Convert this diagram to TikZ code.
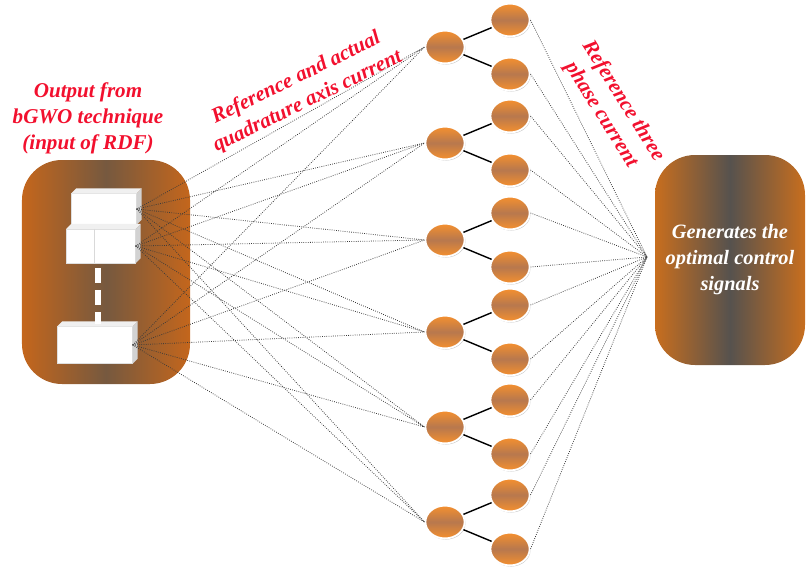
\documentclass[tikz,border=0pt]{standalone}
\usepackage{fontspec}
\setmainfont{Liberation Serif}
\usepackage{tikz}
\usetikzlibrary{positioning,shapes.geometric,shadows}
\definecolor{lred}{HTML}{F2102E}
\definecolor{borange}{HTML}{C4661C}
\definecolor{bmid}{HTML}{76593F}
\definecolor{rorange}{HTML}{C86E1E}
\definecolor{rmid}{HTML}{56524E}
\definecolor{ntop}{HTML}{F5902E}
\definecolor{nmid}{HTML}{B7784E}
\definecolor{wgrey}{HTML}{3A3A3A}
\tikzset{
  panel/.style = {rectangle, rounded corners=10mm, left color=borange,
                  right color=borange, middle color=bmid,
                  minimum width=42mm, minimum height=56mm},
  panelr/.style = {panel, left color=rorange, right color=rorange,
                  middle color=rmid, minimum width=37.5mm, minimum height=52.5mm,
                  align=center, text=white,
                  font=\fontsize{14.5}{18.5}\selectfont\bfseries\itshape},
  blk/.style  = {rectangle, fill=white, draw=gray!25, line width=0.3pt, inner sep=0pt},
  neu/.style  = {ellipse, minimum width=9.8mm, minimum height=8.2mm, inner sep=0pt,
                 top color=ntop, bottom color=ntop, middle color=nmid,
                 draw=white, line width=1.3pt,
                 drop shadow={shadow xshift=0.6pt, shadow yshift=-0.8pt,
                              fill=gray!80, opacity=0.6}},
  lab/.style  = {align=center, text=lred,
                 font=\fontsize{15}{18.5}\selectfont\bfseries\itshape},
  wire/.style = {draw=wgrey, line width=0.55pt, densely dotted},
  link/.style = {draw=black, line width=1pt},
}
\begin{document}
\begin{tikzpicture}[x=0.25mm, y=-0.25mm]
\useasboundingbox (0,0) rectangle (808,570);

% ---- input block with its stacked entries
\node[panel] (inp) at (106,272) {};
\node[blk, minimum width=16.25mm, minimum height=7.75mm] (blk1) at (104,209) {};
\node[blk, minimum width=17.25mm, minimum height=8.5mm]  (blk2) at (101,246) {};
\node[blk, minimum width=18.75mm, minimum height=9.25mm] (blk3) at (95,345) {};
\foreach \b in {blk1,blk2,blk3}{
  \fill[gray!12] (\b.north west) -- ++(5,-5) -- ([shift={(5,-5)}]\b.north east)
                 -- (\b.north east) -- cycle;
  \fill[gray!35] (\b.north east) -- ++(5,-5) -- ([shift={(5,-5)}]\b.south east)
                 -- (\b.south east) -- cycle;
}
\draw[gray!30] ([xshift=-1.75mm]blk2.north) -- ([xshift=-1.75mm]blk2.south);
\draw[white, line width=1.5mm, dash pattern=on 3.75mm off 1.75mm] (98,268) -- (98,324);

% ---- first column
\node[neu] (h1) at (445,47)  {};
\node[neu] (h2) at (445,143) {};
\node[neu] (h3) at (445,240) {};
\node[neu] (h4) at (445,332) {};
\node[neu] (h5) at (445,427) {};
\node[neu] (h6) at (445,522) {};

% ---- second column, two per node
\node[neu, right=6mm of h1, yshift=6.75mm]  (o1u) {};
\node[neu, right=6mm of h1, yshift=-6.75mm] (o1d) {};
\node[neu, right=6mm of h2, yshift=6.75mm]  (o2u) {};
\node[neu, right=6mm of h2, yshift=-6.75mm] (o2d) {};
\node[neu, right=6mm of h3, yshift=6.75mm]  (o3u) {};
\node[neu, right=6mm of h3, yshift=-6.75mm] (o3d) {};
\node[neu, right=6mm of h4, yshift=6.75mm]  (o4u) {};
\node[neu, right=6mm of h4, yshift=-6.75mm] (o4d) {};
\node[neu, right=6mm of h5, yshift=6.75mm]  (o5u) {};
\node[neu, right=6mm of h5, yshift=-6.75mm] (o5d) {};
\node[neu, right=6mm of h6, yshift=6.75mm]  (o6u) {};
\node[neu, right=6mm of h6, yshift=-6.75mm] (o6d) {};

% ---- output block
\node[panelr] (out) at (730,260) {Generates the\\optimal control\\signals};
\coordinate (hub) at (647,257);

% ---- wiring
\foreach \s in {blk1,blk2,blk3}
  \foreach \h in {1,...,6}
    \draw[wire] (\s.east) -- (h\h.west);
\foreach \h in {1,...,6}{
  \draw[link] (h\h) -- (o\h u);
  \draw[link] (h\h) -- (o\h d);
  \draw[wire] (o\h u.east) -- (hub);
  \draw[wire] (o\h d.east) -- (hub);
}

% ---- labels
\node[lab]             (tin)  at (88,118)  {Output from\\bGWO technique\\(input of RDF)};
\node[lab, rotate=26]  (tdq)  at (302,90)  {Reference and actual\\quadrature axis current};
\node[lab, rotate=-58] (tabc) at (612,108) {Reference three\\phase current};

\end{tikzpicture}
\end{document}
